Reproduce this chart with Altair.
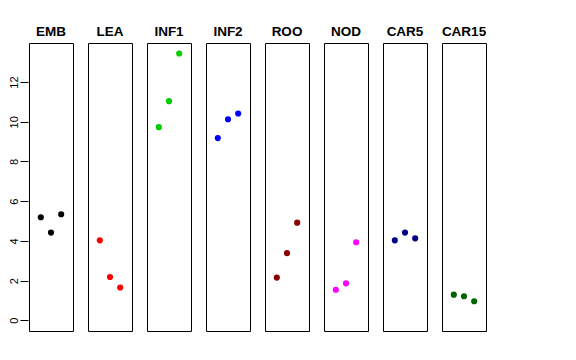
import altair as alt
import pandas as pd

tissues = ["EMB", "LEA", "INF1", "INF2", "ROO", "NOD", "CAR5", "CAR15"]
colors = ["#000000", "#FF0000", "#00CD00", "#0000FF", "#8B0000", "#FF00FF", "#00008B", "#006400"]
replicate = [1, 2, 3]
values = {
    "EMB": [5.19, 4.42, 5.34],
    "LEA": [4.03, 2.18, 1.65],
    "INF1": [9.73, 11.04, 13.44],
    "INF2": [9.18, 10.13, 10.42],
    "ROO": [2.15, 3.38, 4.92],
    "NOD": [1.54, 1.86, 3.93],
    "CAR5": [4.03, 4.42, 4.13],
    "CAR15": [1.29, 1.21, 0.96],
}
y_ticks = [0, 2, 4, 6, 8, 10, 12]

rows = []
for t in tissues:
    for r, v in zip(replicate, values[t]):
        rows.append({"tissue": t, "rep": r, "value": v})
df = pd.DataFrame(rows)

font = "Liberation Sans"

chart = alt.Chart(df).mark_circle(size=38, opacity=1).encode(
    x=alt.X("rep:Q", scale=alt.Scale(domain=[-0.16, 4.16], nice=False, zero=False), axis=None),
    y=alt.Y("value:Q", scale=alt.Scale(domain=[-0.54, 13.97], nice=False, zero=False),
            axis=alt.Axis(title=None, values=y_ticks, grid=False, domain=False,
                          tickSize=8, tickColor="#000000", labelAngle=270,
                          labelAlign="center", labelBaseline="bottom",
                          labelPadding=1, labelFontSize=11, labelFont=font,
                          labelColor="#000000")),
    color=alt.Color("tissue:N", scale=alt.Scale(domain=tissues, range=colors), legend=None),
).properties(width=44, height=288).facet(
    column=alt.Column("tissue:N", sort=tissues,
                      header=alt.Header(title=None, labelFont=font, labelFontSize=13.5,
                                        labelFontWeight="bold", labelColor="#000000",
                                        labelPadding=4)),
    spacing=13,
).configure_view(stroke="#000000", strokeWidth=1).properties(
    padding={"left": 0, "top": 16, "right": 5, "bottom": 5}
)

chart.save("out.html", embed_options={"renderer": "svg", "actions": False})
